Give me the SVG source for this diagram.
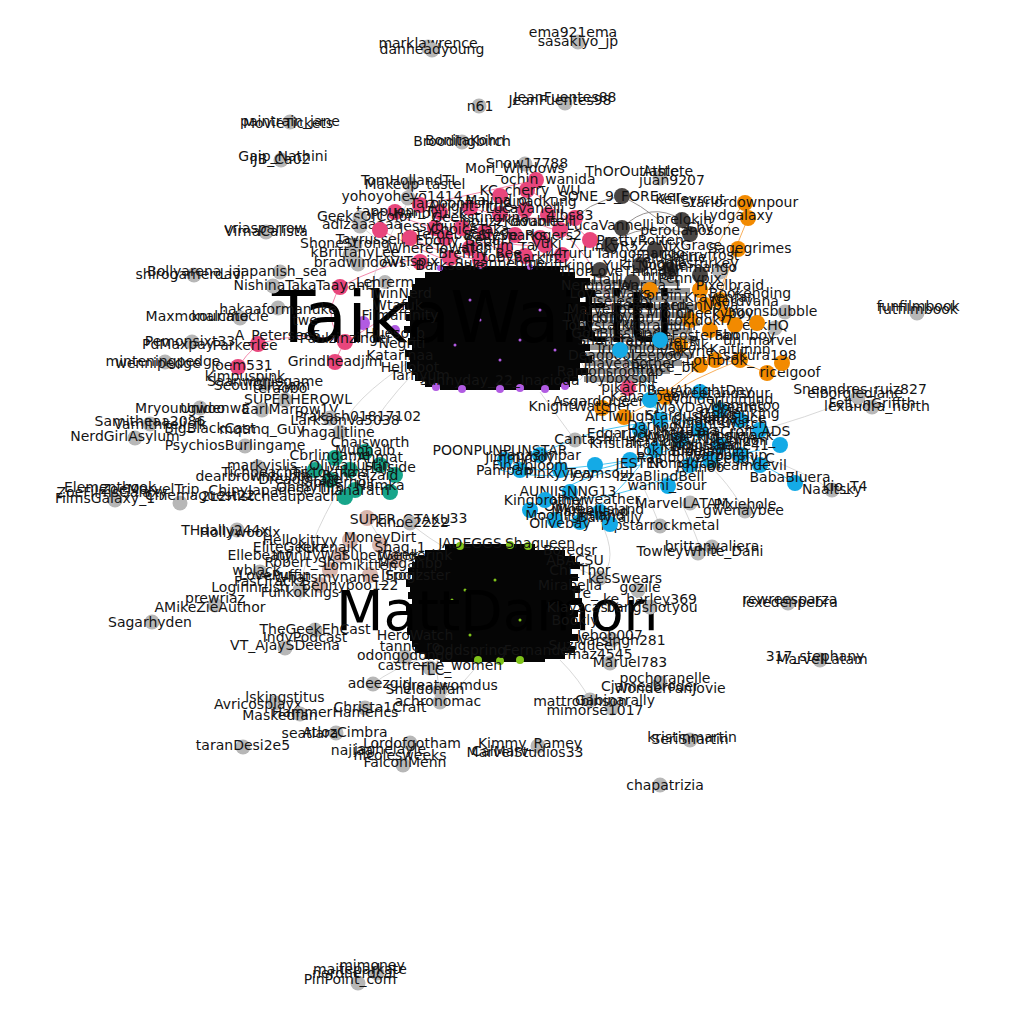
<svg xmlns="http://www.w3.org/2000/svg" width="1024" height="1024" viewBox="0 0 1024 1024">
<style>
text{font-family:"DejaVu Sans","Liberation Sans",sans-serif;font-size:14px;fill:#141414;text-anchor:middle}
.big{font-size:71px;text-anchor:start;fill:#000}
.big2{font-size:55px;text-anchor:start;fill:#000}
.g{fill:#b7b7b7}
.pk{fill:#e8467c}
.dk{fill:#4a4644}
.or{fill:#f28a00}
.bl{fill:#14aae6}
.tl{fill:#17a58a}
.bg{fill:#d8b6ad}
.pu{fill:#b15be2}
.gr{fill:#7fc31a}
.e{fill:none;stroke-width:0.9}
.ep{stroke:#f27aa3}
.eg{stroke:#d4d4d4}
.eb{stroke:#38bff0}
.eo{stroke:#f6a64a}
.ed{stroke:#8a8583}
.mass{fill:#050505}
.haze{fill:#111;opacity:0.45}
</style>
<rect width="1024" height="1024" fill="#ffffff"/>

<g id="connectors">
<path class="e ep" d="M395,212 Q420,230 462,228"/>
<path class="e ep" d="M420,205 Q470,195 536,180"/>
<path class="e ep" d="M440,212 Q490,250 545,245"/>
<path class="e ep" d="M470,208 Q520,222 575,218"/>
<path class="e ep" d="M460,228 Q500,260 562,255"/>
<path class="e ep" d="M410,238 Q470,268 525,258"/>
<path class="e ep" d="M380,230 Q420,250 450,262"/>
<path class="e ep" d="M527,188 Q560,210 590,240"/>
<path class="e ep" d="M500,196 Q540,230 560,230"/>
<path class="e ep" d="M340,287 Q320,320 345,342"/>
<path class="e ep" d="M345,342 Q300,330 258,344"/>
<path class="e ep" d="M258,344 Q245,356 238,367"/>
<path class="e ep" d="M335,362 Q340,350 345,342"/>
<path class="e ep" d="M345,342 Q380,320 415,300"/>
<path class="e ep" d="M340,287 Q380,265 420,258"/>
<path class="e ep" d="M560,230 Q620,280 628,388"/>
<path class="e eg" d="M410,377 Q360,430 333,500"/>
<path class="e eg" d="M333,500 Q300,560 300,600"/>
<path class="e eg" d="M340,432 Q350,400 412,360"/>
<path class="e eg" d="M410,198 Q380,250 370,290"/>
<path class="e eg" d="M360,226 Q380,240 410,270"/>
<path class="e eg" d="M367,518 Q400,570 420,600"/>
<path class="e eg" d="M410,523 Q430,540 450,550"/>
<path class="e eg" d="M440,690 Q430,650 450,640"/>
<path class="e eg" d="M373,684 Q390,670 430,655"/>
<path class="e eg" d="M440,700 Q470,680 480,660"/>
<path class="e eg" d="M560,660 Q580,680 590,700"/>
<path class="e eg" d="M600,578 Q580,570 570,565"/>
<path class="e eg" d="M640,330 Q600,350 580,380"/>
<path class="e eg" d="M575,440 Q560,420 540,392"/>
<path class="e eg" d="M745,511 Q720,470 700,460"/>
<path class="e eg" d="M660,526 Q650,500 640,480"/>
<path class="e eg" d="M785,312 Q740,320 720,318"/>
<path class="e eg" d="M858,397 Q800,420 760,430"/>
<path class="e eg" d="M832,490 Q800,470 770,460"/>
<path class="e eg" d="M700,547 Q690,520 680,500"/>
<path class="e eg" d="M580,360 Q600,400 628,388"/>
<path class="e ed" d="M622,196 Q660,215 690,250"/>
<path class="e ed" d="M622,228 Q650,200 682,220"/>
<path class="e ed" d="M610,245 Q640,220 690,234"/>
<path class="e ed" d="M560,230 Q590,200 622,196"/>
<path class="e ed" d="M640,265 Q660,240 682,220"/>
<path class="e eo" d="M745,203 Q720,230 700,290"/>
<path class="e eo" d="M748,218 Q730,260 720,300"/>
<path class="e eo" d="M738,249 Q720,280 710,330"/>
<path class="e eo" d="M700,290 Q690,330 680,345"/>
<path class="e eo" d="M767,373 Q740,360 715,360"/>
<path class="e eo" d="M602,408 Q650,380 690,342"/>
<path class="e eo" d="M624,417 Q660,400 700,365"/>
<path class="e eo" d="M665,397 Q690,380 740,360"/>
<path class="e eb" d="M700,440 Q620,470 520,470"/>
<path class="e eb" d="M720,450 Q640,500 560,500"/>
<path class="e eb" d="M660,440 Q600,520 570,520"/>
<path class="e eb" d="M740,460 Q680,420 620,350"/>
<path class="e eb" d="M668,486 Q700,460 760,450"/>
<path class="e eb" d="M640,400 Q700,430 790,480"/>
<path class="e eb" d="M620,350 Q650,380 660,420"/>
<path class="e eb" d="M560,490 Q600,470 640,465"/>
<path class="e eb" d="M540,455 Q600,420 700,420"/>
<path class="e eb" d="M500,470 Q560,485 630,460"/>
<path class="e eg" d="M600,520 Q620,560 600,578"/>
</g>

<g id="cluster-purple-mass">
<path class="haze" d="M585,280 h95 v6 h-95 Z M580,288 h110 v6 h-110 Z M588,296 h100 v6 h-100 Z M582,304 h115 v6 h-115 Z M586,312 h105 v6 h-105 Z M580,320 h120 v6 h-120 Z M584,328 h108 v6 h-108 Z M580,336 h118 v6 h-118 Z M588,344 h100 v6 h-100 Z M582,352 h112 v6 h-112 Z M586,360 h96 v6 h-96 Z M580,368 h90 v6 h-90 Z M584,376 h70 v6 h-70 Z"/>
<path class="mass" d="M440,266 h120 v7 h-120 Z M425,272 h150 v7 h-150 Z M415,278 h175 v7 h-175 Z M412,284 h173 v7 h-173 Z M410,290 h185 v7 h-185 Z M408,296 h172 v7 h-172 Z M405,302 h185 v7 h-185 Z M410,308 h175 v7 h-175 Z M406,314 h186 v7 h-186 Z M410,320 h170 v7 h-170 Z M404,326 h184 v7 h-184 Z M410,332 h185 v7 h-185 Z M408,338 h174 v7 h-174 Z M412,344 h178 v7 h-178 Z M405,350 h180 v7 h-180 Z M410,356 h182 v7 h-182 Z M407,362 h173 v7 h-173 Z M412,368 h176 v7 h-176 Z M415,374 h163 v7 h-163 Z M425,380 h145 v7 h-145 Z M440,386 h120 v4 h-120 Z"/>
<circle class="pu" cx="436" cy="387" r="4"/><circle class="pu" cx="462" cy="389" r="4"/><circle class="pu" cx="500" cy="389" r="4"/><circle class="pu" cx="520" cy="388" r="4"/><circle class="pu" cx="545" cy="389" r="4"/><circle class="pu" cx="565" cy="386" r="4"/>
<circle class="pu" cx="440" cy="268" r="3"/><circle class="pu" cx="480" cy="266" r="3"/><circle class="pu" cx="530" cy="267" r="3"/>
<circle class="pu" cx="480" cy="320" r="1.5"/><circle class="pu" cx="520" cy="340" r="1.5"/><circle class="pu" cx="540" cy="310" r="1.5"/><circle class="pu" cx="500" cy="360" r="1.5"/><circle class="pu" cx="555" cy="350" r="1.5"/><circle class="pu" cx="455" cy="345" r="1.5"/><circle class="pu" cx="470" cy="300" r="1.5"/>
<circle class="pu" cx="363" cy="323" r="7"/><circle class="pu" cx="395" cy="330" r="5"/>
</g>

<g id="cluster-green-mass">
<path class="mass" d="M445,544 h90 v7 h-90 Z M425,550 h140 v7 h-140 Z M415,556 h160 v7 h-160 Z M412,562 h168 v7 h-168 Z M408,568 h162 v7 h-162 Z M412,574 h166 v7 h-166 Z M406,580 h166 v7 h-166 Z M410,586 h170 v7 h-170 Z M408,592 h167 v7 h-167 Z M412,598 h170 v7 h-170 Z M406,604 h164 v7 h-164 Z M410,610 h168 v7 h-168 Z M408,616 h167 v7 h-167 Z M412,622 h168 v7 h-168 Z M407,628 h165 v7 h-165 Z M410,634 h168 v7 h-168 Z M412,640 h158 v7 h-158 Z M415,646 h160 v7 h-160 Z M425,652 h140 v7 h-140 Z M440,658 h105 v4 h-105 Z"/>
<circle class="gr" cx="460" cy="546" r="4"/><circle class="gr" cx="510" cy="545" r="4"/><circle class="gr" cx="528" cy="546" r="4"/>
<circle class="gr" cx="478" cy="660" r="4"/><circle class="gr" cx="500" cy="661" r="4"/><circle class="gr" cx="520" cy="660" r="4"/>
<circle class="gr" cx="452" cy="600" r="1.5"/><circle class="gr" cx="495" cy="580" r="1.5"/><circle class="gr" cx="520" cy="620" r="1.5"/><circle class="gr" cx="465" cy="590" r="1.5"/><circle class="gr" cx="470" cy="635" r="1.5"/>
</g>

<g id="big-labels">
<text class="big" x="272" y="342">TaikaWaititi</text>
<text class="big2" x="336" y="630">MattDamon</text>
</g>

<g id="n-marklawrence"><circle class="g" cx="428" cy="47" r="7.5"/><text x="428" y="48">marklawrence</text></g>
<g id="n-danheadyoung"><circle class="g" cx="432" cy="50" r="7.5"/><text x="432" y="54">danheadyoung</text></g>
<g id="n-ema921ema"><circle class="g" cx="578" cy="42" r="7.5"/><text x="573" y="37">ema921ema</text><text x="578" y="46">sasakiyo_jp</text></g>
<g id="n-jeanfuentes"><circle class="g" cx="565" cy="103" r="7.5"/><text x="560" y="105">JeanFuentes98</text><text x="565" y="102">JeanFuentes88</text></g>
<g id="n-n61"><circle class="g" cx="479" cy="106" r="7.5"/><text x="480" y="111">n61</text></g>
<g id="n-paintrain"><circle class="g" cx="290" cy="122" r="7.5"/><text x="290" y="126">paintrain_jane</text><text x="288" y="128">MovieTickets</text></g>
<g id="n-bonita"><circle class="g" cx="462" cy="142" r="7.5"/><text x="465" y="145">BonitaKohn</text><text x="462" y="146">Broodingbirch</text></g>
<g id="n-gaip"><circle class="g" cx="281" cy="160" r="7.5"/><text x="283" y="161">Gaip_Nathini</text><text x="280" y="164">IJB_Ca02</text></g>
<g id="n-vrias"><circle class="g" cx="266" cy="232" r="7.5"/><text x="265" y="233">vriasparrow</text><text x="266" y="236">VirnaCalista</text></g>
<g id="n-bolly"><circle class="g" cx="194" cy="275" r="7.5"/><text x="194" y="276">Bollyarena_ia</text><text x="190" y="279">shirogamerdavi</text></g>
<g id="n-japanish"><circle class="g" cx="280" cy="272" r="7.5"/><text x="282" y="276">japanish_sea</text></g>
<g id="n-nishina"><circle class="g" cx="273" cy="286" r="7.5"/><text x="275" y="290">NishinaTaka</text></g>
<g id="n-taayani"><circle class="pk" cx="340" cy="287" r="8"/><text x="347" y="290">Taayani1</text></g>
<g id="n-lehrer"><circle class="g" cx="385" cy="282" r="7"/><text x="385" y="287">Lehrerm</text></g>
<g id="n-hakaa"><circle class="g" cx="278" cy="308" r="7.5"/><text x="278" y="314">hakaaformanuke</text></g>
<g id="n-maxmon"><circle class="g" cx="240" cy="318" r="7.5"/><text x="197" y="321">Maxmonalcate</text><text x="230" y="321">kourimocle</text><text x="305" y="325">twe</text></g>
<g id="n-pemon"><circle class="g" cx="192" cy="342" r="7.5"/><text x="190" y="346">Pemonsixt33</text><text x="178" y="349">PdMaxpay</text></g>
<g id="n-apete"><circle class="pk" cx="258" cy="344" r="8"/><text x="278" y="340">A_Petersee5</text><text x="245" y="350">Parkerlee</text></g>
<g id="n-paulz"><circle class="pk" cx="345" cy="342" r="8"/><text x="345" y="343">Paulzinzingei</text></g>
<g id="n-mintening"><circle class="g" cx="165" cy="362" r="7.5"/><text x="163" y="366">minteningpedge</text><text x="158" y="368">wennipedge</text></g>
<g id="n-joem"><circle class="pk" cx="238" cy="367" r="8"/><text x="242" y="370">joem531</text></g>
<g id="n-grind"><circle class="pk" cx="335" cy="362" r="8"/><text x="335" y="366">Grindheadjim</text></g>
<g id="n-kimpus"><circle class="g" cx="265" cy="384" r="7.5"/><text x="245" y="381">kimpuspink</text><text x="265" y="386">Saanwoniegame</text><text x="262" y="390">SeoulGlitzjam</text><text x="280" y="393">teraobo</text></g>
<g id="n-superhero"><circle class="g" cx="285" cy="400" r="7.5"/><text x="298" y="404">SUPERHEROWL</text></g>
<g id="n-mryoung"><circle class="g" cx="200" cy="408" r="7.5"/><text x="180" y="413">Mryoungwoo</text><text x="215" y="413">Unidenwa</text></g>
<g id="n-earl"><circle class="g" cx="262" cy="410" r="7.5"/><text x="290" y="414">EarlMarrow1V</text></g>
<g id="n-prakash"><circle class="g" cx="330" cy="418" r="7.5"/><text x="358" y="421">Prakash01817102</text><text x="345" y="425">LarkSonVa5038</text></g>
<g id="n-vamith"><circle class="g" cx="150" cy="424" r="7.5"/><text x="150" y="426">Samitheaa2086</text><text x="160" y="429">Vamithkeli_fk</text></g>
<g id="n-nerdgirl"><circle class="g" cx="135" cy="438" r="7.5"/><text x="125" y="441">NerdGirlAsylum</text><text x="210" y="433">BigBlackCast</text></g>
<g id="n-psych"><circle class="g" cx="245" cy="446" r="7.5"/><text x="235" y="450">PsychiosBurlingame</text><text x="262" y="434">mqtmq_Guy</text></g>
<g id="n-hagal"><circle class="g" cx="340" cy="432" r="7.5"/><text x="338" y="437">hagalitline</text></g>
<g id="n-marky"><circle class="g" cx="258" cy="467" r="7.5"/><text x="262" y="470">markyislis</text><text x="255" y="481">dearbrownbubbe</text><text x="265" y="477">Tichpeaches</text></g>
<g id="n-filmsgalaxy"><circle class="g" cx="115" cy="500" r="7.5"/><circle class="g" cx="180" cy="503" r="7.5"/><text x="110" y="492">Elementhook</text><text x="112" y="497">ZoeFilmsGalaxy</text><text x="105" y="503">FilmsGalaxy_1</text><text x="150" y="494">ZoeMarvelTrip</text><text x="200" y="500">Cinemaguest22</text><text x="260" y="495">ChinyJapanese</text><text x="270" y="501">2L2Histcheaupeach</text></g>
<g id="n-thdally"><circle class="g" cx="237" cy="530" r="7.5"/><text x="225" y="535">THdally244x</text><text x="240" y="537">Hollywoodx</text></g>
<g id="n-superotaku"><circle class="bg" cx="367" cy="518" r="8"/><text x="400" y="524">SUPER_OTAKU</text><text x="455" y="523">_33</text></g>
<g id="n-kinoe"><circle class="g" cx="410" cy="523" r="7.5"/><text x="412" y="527">kinoe2222</text></g>
<g id="n-prewriaz"><circle class="g" cx="215" cy="605" r="7.5"/><text x="215" y="603">prewriaz</text><text x="210" y="612">AMikeZieAuthor</text></g>
<g id="n-sagar"><circle class="g" cx="152" cy="622" r="7.5"/><text x="150" y="627">Sagarhyden</text></g>
<g id="n-geekeh"><circle class="g" cx="315" cy="630" r="7.5"/><text x="315" y="634">TheGeekEhCast</text><text x="305" y="642">IndyPodcast</text></g>
<g id="n-vtajay"><circle class="g" cx="285" cy="648" r="7.5"/><text x="285" y="650">VT_AjaySDeena</text></g>
<g id="n-odongo"><circle class="g" cx="405" cy="657" r="7.5"/><text x="410" y="651">tannc_ro</text><text x="405" y="660">odongodongo</text></g>
<g id="n-castrerne"><circle class="g" cx="430" cy="668" r="7.5"/><text x="440" y="670">castrerne_women</text><text x="435" y="675">TLC_</text></g>
<g id="n-adeez"><circle class="g" cx="373" cy="684" r="7.5"/><text x="380" y="688">adeezgirl</text></g>
<g id="n-great"><circle class="g" cx="440" cy="690" r="7.5"/><text x="450" y="690">greatwomdus</text><text x="425" y="694">Sheldonfan</text></g>
<g id="n-achro"><circle class="g" cx="440" cy="702" r="7.5"/><text x="438" y="706">achronomac</text></g>
<g id="n-avric"><circle class="g" cx="275" cy="703" r="7.5"/><text x="285" y="702">lskingstitus</text><text x="258" y="709">Avricosplayx</text></g>
<g id="n-masked"><circle class="g" cx="300" cy="714" r="7.5"/><circle class="g" cx="365" cy="708" r="7.5"/><text x="280" y="720">Maskedfan</text><text x="335" y="717">HammerHamerics</text><text x="380" y="712">Christa1Craft</text></g>
<g id="n-seatiara"><circle class="g" cx="336" cy="733" r="7.5"/><text x="310" y="738">seatiara</text><text x="345" y="737">AtlozCimbra</text></g>
<g id="n-taran"><circle class="g" cx="243" cy="747" r="7.5"/><text x="243" y="750">taranDesi2e5</text></g>
<g id="n-lordof"><circle class="g" cx="410" cy="743" r="7.5"/><text x="412" y="748">Lordofgotham</text></g>
<g id="n-najiaa"><circle class="g" cx="403" cy="765" r="7.5"/><text x="352" y="755">najiaa</text><text x="390" y="754">jaghelayle</text><text x="400" y="760">nicolesweeks</text><text x="405" y="767">FalconMenn</text></g>
<g id="n-kimmy"><circle class="g" cx="538" cy="746" r="7.5"/><text x="530" y="748">Kimmy_Ramey</text><text x="525" y="757">MarvelStudios33</text><text x="500" y="756">CalMarv</text></g>
<g id="n-seri"><circle class="g" cx="690" cy="740" r="7.5"/><text x="690" y="744">SeriSnartin</text><text x="692" y="742">kristinmartin</text></g>
<g id="n-chapa"><circle class="g" cx="660" cy="785" r="7.5"/><text x="665" y="790">chapatrizia</text></g>
<g id="n-mjmoney"><circle class="g" cx="377" cy="973" r="7.5"/><circle class="g" cx="358" cy="983" r="7.5"/><text x="372" y="970">mjmoney</text><text x="360" y="974">maiteparkate</text><text x="355" y="978">nerdnerdcat</text><text x="350" y="984">PinPoint_com</text></g>
<g id="n-mattrob"><circle class="g" cx="590" cy="700" r="7.5"/><circle class="g" cx="612" cy="708" r="7.5"/><text x="580" y="706">mattrobinson</text><text x="615" y="705">Gabinarally</text><text x="595" y="715">mimorse1017</text></g>
<g id="n-pochor"><circle class="g" cx="660" cy="683" r="7.5"/><text x="665" y="683">pochoranelle</text><text x="670" y="693">WonderFanJovie</text><text x="650" y="691">Cjamesbroder</text></g>
<g id="n-317"><circle class="g" cx="820" cy="660" r="7.5"/><text x="815" y="661">317_stephany</text><text x="822" y="664">MarvelLatam</text></g>
<g id="n-rewree"><circle class="g" cx="788" cy="603" r="7.5"/><text x="790" y="604">rewreesparza</text><text x="790" y="607">lexedenpebra</text></g>
<g id="n-maruel"><circle class="g" cx="610" cy="663" r="7.5"/><text x="630" y="667">Maruel783</text><text x="600" y="659">maz4545</text></g>
<g id="n-singh"><circle class="g" cx="612" cy="640" r="7.5"/><text x="622" y="645">Varsingh281</text><text x="610" y="640">Jebob007</text></g>
<g id="n-harley"><circle class="g" cx="650" cy="607" r="7.5"/><text x="650" y="604">ke_harley369</text><text x="652" y="612">bangsnotyou</text></g>
<g id="n-kes"><circle class="g" cx="600" cy="578" r="7.5"/><circle class="g" cx="638" cy="590" r="7.5"/><text x="625" y="583">kesSwears</text><text x="640" y="592">gozile</text></g>
<g id="n-brittany"><circle class="g" cx="712" cy="547" r="7.5"/><circle class="g" cx="698" cy="553" r="7.5"/><text x="712" y="551">brittanyaliera</text><text x="700" y="556">TowleyWhite_Dahi</text></g>
<g id="n-rockmetal"><circle class="g" cx="660" cy="526" r="7.5"/><text x="660" y="530">hipstarrockmetal</text></g>
<g id="n-marvellatam"><circle class="g" cx="690" cy="503" r="7.5"/><circle class="g" cx="745" cy="511" r="7.5"/><text x="682" y="508">MarvelLATAM</text><text x="745" y="509">Pixiehole</text><text x="740" y="515">_gwenaybee</text></g>
<g id="n-naalt"><circle class="g" cx="832" cy="490" r="7.5"/><text x="832" y="494">Naaltsky</text><text x="845" y="491">kio_T4</text></g>
<g id="n-babab"><circle class="bl" cx="795" cy="483" r="8"/><text x="790" y="482">BabaBluera</text></g>
<g id="n-felton"><circle class="g" cx="872" cy="407" r="7.5"/><text x="872" y="408">FeltonGriffth</text><text x="877" y="411">lexandra_north</text></g>
<g id="n-sneandres"><circle class="g" cx="858" cy="397" r="7.5"/><text x="860" y="394">Sneandres_ruiz827</text><text x="855" y="398">elborglediane</text></g>
<g id="n-funfilm"><circle class="g" cx="917" cy="313" r="7.5"/><text x="918" y="311">funfilmbook</text><text x="918" y="314">futfilmbook</text></g>
<g id="n-dragons"><circle class="g" cx="785" cy="312" r="7.5"/><text x="765" y="316">dragonsbubble</text></g>
<g id="n-hq"><circle class="g" cx="775" cy="328" r="7.5"/><text x="760" y="330">GeekHQ</text></g>
<g id="n-riceig"><circle class="or" cx="767" cy="373" r="8"/><text x="790" y="377">riceigoof</text></g>
<g id="n-pikachil"><circle class="pk" cx="628" cy="388" r="8"/><text x="628" y="392">pikachil</text></g>
<g id="n-asgard"><circle class="or" cx="602" cy="408" r="8"/><text x="600" y="406">AsgardQueen</text><text x="580" y="411">KnightWatcher</text></g>
<g id="n-arttw"><circle class="or" cx="624" cy="417" r="8"/><text x="622" y="421">ArtTwilight</text></g>
<g id="n-kanan"><circle class="or" cx="665" cy="397" r="8"/><text x="645" y="401">Kananbee</text></g>
<g id="n-cantashi"><circle class="g" cx="575" cy="440" r="7.5"/><text x="585" y="444">Cantashi</text></g>
<g id="n-poon"><circle class="bl" cx="540" cy="455" r="8"/><text x="500" y="455">POONPUNPUNSTAR</text></g>
<g id="n-jester"><circle class="bl" cx="630" cy="460" r="8"/><text x="640" y="468">JESTER</text></g>
<g id="n-izza"><circle class="bl" cx="668" cy="486" r="8"/><text x="660" y="481">IzzaBlindBell</text><text x="667" y="490">wanni_sour</text></g>
<g id="n-auni"><circle class="bl" cx="570" cy="492" r="8"/><text x="568" y="496">AUNIISNNG13</text><text x="590" y="504">palmyweather</text></g>
<g id="n-moebius"><circle class="bl" cx="600" cy="512" r="8"/><text x="600" y="514">Moebiusland</text><text x="560" y="511">_Olivia</text></g>
<g id="n-snow"><circle class="g" cx="525" cy="164" r="7.5"/><text x="527" y="168">Snow17788</text><text x="515" y="173">Mori_Windows</text></g>
<g id="n-ochin"><circle class="pk" cx="536" cy="180" r="8"/><text x="548" y="184">ochin_wanida</text></g>
<g id="n-kccherry"><circle class="pk" cx="527" cy="190" r="8"/><text x="530" y="195">KC_cherry_WU</text></g>
<g id="n-tomholland"><circle class="g" cx="410" cy="184" r="7.5"/><text x="410" y="185">TomHollandTL</text><text x="415" y="189">Makeup_tastel</text></g>
<g id="n-yohoyo"><circle class="g" cx="408" cy="198" r="7.5"/><text x="402" y="201">yohoyoheyo1414</text></g>
<g id="n-thor"><circle class="g" cx="660" cy="178" r="7.5"/><text x="632" y="176">ThOrOutlaste</text><text x="668" y="176">Athlete</text><text x="672" y="185">juan9207</text></g>
<g id="n-sone"><circle class="dk" cx="622" cy="196" r="8"/><text x="620" y="201">SONE_9_FOREver</text></g>
<g id="n-starlord"><circle class="or" cx="745" cy="203" r="8"/><text x="740" y="207">Starlordownpour</text><text x="690" y="204">Kelleyrcut</text></g>
<g id="n-lydg"><circle class="or" cx="748" cy="218" r="8"/><text x="738" y="220">Lydgalaxy</text></g>
<g id="n-brelok"><circle class="dk" cx="682" cy="220" r="8"/><text x="684" y="224">brelokin</text></g>
<g id="n-perou"><circle class="dk" cx="690" cy="234" r="8"/><text x="690" y="235">perouanosone</text><text x="700" y="232">Chy</text></g>
<g id="n-luca"><circle class="dk" cx="622" cy="228" r="8"/><text x="610" y="230">LucaVannelli</text></g>
<g id="n-pinky"><circle class="dk" cx="610" cy="245" r="8"/><text x="620" y="251">PinkyR5Z6</text></g>
<g id="n-sage"><circle class="or" cx="738" cy="249" r="8"/><text x="750" y="253">Sagegrimes</text><text x="690" y="250">NixGrace</text></g>
<g id="n-m4ruru"><circle class="pk" cx="562" cy="255" r="8"/><text x="567" y="258">M4ruru</text></g>
<g id="n-tappu"><circle class="pk" cx="395" cy="212" r="8"/><text x="395" y="216">tappuoni_T</text></g>
<g id="n-geeks"><circle class="g" cx="360" cy="218" r="7.5"/><text x="365" y="221">GeeksOfColor</text></g>
<g id="n-adiza"><circle class="g" cx="360" cy="226" r="7.5"/><text x="362" y="229">adizaaaaaa</text></g>
<g id="n-jessy"><circle class="pk" cx="435" cy="228" r="8"/><text x="438" y="231">jessybuilds</text></g>
<g id="n-teroe"><circle class="pk" cx="445" cy="238" r="8"/><text x="452" y="239">teroebuds</text></g>
<g id="n-shone"><circle class="g" cx="355" cy="245" r="7.5"/><text x="345" y="248">ShoneStrong</text><text x="370" y="244">Tayrussell</text></g>
<g id="n-brittk"><circle class="g" cx="350" cy="255" r="7.5"/><text x="355" y="257">kBrittanyLee</text></g>
<g id="n-bradw"><circle class="g" cx="358" cy="264" r="7.5"/><text x="360" y="267">bradwindows</text></g>
<g id="n-avit"><circle class="pk" cx="420" cy="262" r="8"/><text x="410" y="266">AVITspix</text></g>

<g id="labels-pink-cluster">
<circle class="pk" cx="420" cy="205" r="8"/><circle class="pk" cx="440" cy="212" r="8"/><circle class="pk" cx="470" cy="208" r="8"/><circle class="pk" cx="500" cy="214" r="8"/><circle class="pk" cx="525" cy="210" r="8"/><circle class="pk" cx="548" cy="215" r="8"/><circle class="pk" cx="575" cy="218" r="8"/><circle class="pk" cx="462" cy="228" r="8"/><circle class="pk" cx="485" cy="232" r="8"/><circle class="pk" cx="515" cy="235" r="8"/><circle class="pk" cx="540" cy="238" r="8"/><circle class="pk" cx="470" cy="248" r="8"/><circle class="pk" cx="505" cy="250" r="8"/><circle class="pk" cx="525" cy="256" r="8"/><circle class="pk" cx="545" cy="245" r="8"/><circle class="pk" cx="410" cy="238" r="8"/><circle class="pk" cx="450" cy="258" r="8"/><circle class="pk" cx="480" cy="260" r="8"/><circle class="pk" cx="560" cy="230" r="8"/><circle class="pk" cx="590" cy="240" r="8"/><circle class="pk" cx="500" cy="196" r="8"/><circle class="pk" cx="380" cy="230" r="8"/>
<text x="470" y="211">Alright_little</text><text x="450" y="208">Tarpoonfish</text><text x="498" y="205">Malina_ol</text><text x="540" y="206">dinadkung</text><text x="525" y="213">Lucavanelli</text>
<text x="570" y="220">4lbs83</text><text x="480" y="222">Geekstingrina</text><text x="510" y="226">pbuzz_double</text><text x="470" y="234">ChoiceTaka</text>
<text x="530" y="240">Steve_Rogers2</text><text x="460" y="245">Ebony_Seoul</text><text x="500" y="250">Haeilm_ra</text><text x="555" y="248">yuki_7</text>
<text x="440" y="253">WhereToWatch</text><text x="480" y="258">Brenny_Bee</text><text x="520" y="262">tobyparkin</text>
<text x="505" y="240">BabySparks</text><text x="540" y="226">Kavannelli</text><text x="430" y="218">Hanbyul_k</text>
</g>

<g id="labels-dark-cluster">
<circle class="dk" cx="640" cy="265" r="8"/><circle class="dk" cx="670" cy="270" r="8"/><circle class="dk" cx="700" cy="275" r="8"/><circle class="dk" cx="655" cy="250" r="8"/><circle class="dk" cx="632" cy="282" r="8"/><circle class="dk" cx="600" cy="270" r="8"/><circle class="g" cx="720" cy="272" r="7.5"/>
<text x="640" y="258">Tangomango</text><text x="665" y="262">Lizalunaline</text><text x="690" y="268">Gigglesturkey</text><text x="645" y="270">Yuki_Noodle</text><text x="700" y="272">Mmmango</text>
<text x="620" y="276">ThorLoveThunder</text><text x="660" y="280">hrich</text><text x="690" y="283">Pennypix</text><text x="610" y="284">Tlalli_</text><text x="650" y="290">Wanda_1</text>
<text x="700" y="260">Cherryfrost</text><text x="640" y="245">PrettyRotten</text>
</g>

<g id="labels-orange-cluster">
<circle class="or" cx="650" cy="290" r="8"/><circle class="or" cx="700" cy="290" r="8"/><circle class="or" cx="720" cy="300" r="8"/><circle class="or" cx="690" cy="320" r="8"/><circle class="or" cx="710" cy="330" r="8"/><circle class="or" cx="735" cy="325" r="8"/><circle class="or" cx="680" cy="345" r="8"/><circle class="or" cx="700" cy="365" r="8"/><circle class="or" cx="715" cy="360" r="8"/><circle class="or" cx="740" cy="360" r="8"/><circle class="or" cx="782" cy="363" r="8"/><circle class="or" cx="757" cy="323" r="8"/><circle class="or" cx="705" cy="305" r="8"/><circle class="or" cx="725" cy="315" r="8"/>
<text x="730" y="290">Pixelbraid</text><text x="750" y="298">Bookending</text><text x="720" y="302">Kravenfan</text><text x="700" y="310">ArdenNova</text><text x="745" y="306">Nerdvana</text>
<text x="715" y="318">Cheekyboy</text><text x="700" y="325">Lokidoki7</text><text x="760" y="345">tin_marvel</text><text x="740" y="354">Kaitlinnn</text><text x="760" y="360">sakura198</text>
<text x="720" y="365">Lothbrok_</text><text x="690" y="340">JaneFosterFan</text><text x="680" y="350">Korgtalk</text><text x="745" y="340">abonboy</text>
</g>

<g id="labels-purple-edges">
<text x="400" y="298">TwinNerd</text><text x="398" y="310">Wtafuk</text><text x="400" y="320">Filmaffinity</text><text x="395" y="338">Hueso_b</text><text x="402" y="348">Negriti</text>
<text x="400" y="360">Katarinaa</text><text x="410" y="372">Hellobot</text><text x="420" y="380">Tarnyum</text><text x="470" y="385">sunnyday_22_</text><text x="550" y="385">Inacioda</text><text x="500" y="268">Suzanneblue</text><text x="560" y="270">Thriftking</text><text x="450" y="270">Barksdale</text>
<text x="600" y="290">Nerdnation</text><text x="610" y="298">Lovealways</text><text x="620" y="306">uselessbi</text><text x="605" y="314">Marvellous</text><text x="625" y="322">Kirbyfan</text>
<text x="600" y="330">Tonystarkk</text><text x="630" y="338">Blissland</text><text x="610" y="345">Shuri_fan</text><text x="625" y="353">Trinomio</text><text x="605" y="360">Deadpoolz</text>
<text x="630" y="368">Ihaveanother</text><text x="610" y="376">Ramonsrooftop</text><text x="620" y="383">Toyboxsoft</text><text x="650" y="310">Helaqueen</text><text x="660" y="330">Vibranium</text>
<text x="655" y="346">Stephanie_R</text><text x="660" y="360">Leeboo_</text><text x="665" y="372">Prince_bk</text><text x="595" y="322">TwitchTV</text><text x="590" y="338">Gorr_</text>
<text x="660" y="300">Korbin</text><text x="690" y="356">Valkyrie_</text><text x="670" y="318">Mjolnir</text>
</g>

<g id="labels-blue-cluster">
<circle class="bl" cx="620" cy="350" r="8"/><circle class="bl" cx="660" cy="340" r="8"/><circle class="bl" cx="650" cy="400" r="8"/><circle class="bl" cx="700" cy="392" r="8"/><circle class="bl" cx="720" cy="410" r="8"/><circle class="bl" cx="740" cy="420" r="8"/><circle class="bl" cx="760" cy="430" r="8"/><circle class="bl" cx="700" cy="430" r="8"/><circle class="bl" cx="720" cy="445" r="8"/><circle class="bl" cx="680" cy="440" r="8"/><circle class="bl" cx="655" cy="450" r="8"/><circle class="bl" cx="740" cy="455" r="8"/><circle class="bl" cx="760" cy="465" r="8"/><circle class="bl" cx="690" cy="465" r="8"/><circle class="bl" cx="520" cy="470" r="8"/><circle class="bl" cx="505" cy="460" r="8"/><circle class="bl" cx="560" cy="470" r="8"/><circle class="bl" cx="595" cy="465" r="8"/><circle class="bl" cx="530" cy="510" r="8"/><circle class="bl" cx="555" cy="520" r="8"/><circle class="bl" cx="580" cy="522" r="8"/><circle class="bl" cx="610" cy="524" r="8"/><circle class="bl" cx="545" cy="500" r="8"/><circle class="bl" cx="660" cy="420" r="8"/><circle class="bl" cx="780" cy="445" r="8"/><circle class="bl" cx="710" cy="460" r="8"/><circle class="bl" cx="640" cy="430" r="8"/>
<text x="700" y="395">BeuAbrightDay</text><text x="720" y="404">Wonderfulmind</text><text x="710" y="412">MayDaydreams</text><text x="740" y="418">Goldenking</text><text x="720" y="428">Knightswatch</text>
<text x="740" y="436">LaraCroft_ADS</text><text x="700" y="442">Wonderkid_EMA</text><text x="720" y="450">Nightshade41</text><text x="680" y="455">Lokilandland</text><text x="730" y="460">Vamprship</text>
<text x="750" y="470">Dreamdevil_</text><text x="700" y="472">Rhinoo</text><text x="640" y="438">EdgarDarkness</text><text x="660" y="430">Darkboy_</text><text x="620" y="448">Kristiana</text>
<text x="690" y="420">Stardustland</text><text x="700" y="450">Kingsisland</text><text x="670" y="462">Rainbowz</text><text x="740" y="445">Lilymoon_</text><text x="660" y="446">Heraldsky</text>
<text x="720" y="398">Sweetandsour</text><text x="745" y="410">Magnetoo</text><text x="705" y="425">Gladiatrix</text><text x="735" y="440">Hoodiejack</text><text x="690" y="435">Mantissa_</text>
<text x="710" y="456">Bluejayfilm</text><text x="745" y="463">Peggy_C</text><text x="685" y="468">Nomadcat</text><text x="655" y="440">Lucky7ish</text><text x="730" y="423">Sunpalace</text>
<text x="540" y="460">Papasimpar</text><text x="530" y="470">Finalbloom</text><text x="560" y="478">Pinkyyyyy</text><text x="600" y="478">Teamsoul</text><text x="545" y="505">Kingbrother</text>
<text x="520" y="462">Jimmyboy</text><text x="510" y="475">Pampam_</text>
<text x="575" y="520">Moonlightland</text><text x="610" y="522">Ballyrally</text><text x="560" y="528">Olivebay</text><text x="590" y="516">Marvelland</text>
</g>

<g id="labels-teal-cluster">
<circle class="tl" cx="365" cy="452" r="8"/><circle class="tl" cx="335" cy="458" r="8"/><circle class="tl" cx="350" cy="470" r="8"/><circle class="tl" cx="380" cy="465" r="8"/><circle class="tl" cx="330" cy="480" r="8"/><circle class="tl" cx="355" cy="490" r="8"/><circle class="tl" cx="390" cy="492" r="8"/><circle class="tl" cx="345" cy="497" r="8"/><circle class="tl" cx="395" cy="475" r="8"/><circle class="tl" cx="315" cy="470" r="8"/>
<text x="365" y="455">Muhnaib</text><text x="330" y="460">Cbrlingame</text><text x="380" y="462">Ahmat</text><text x="350" y="470">Olivialjustin</text><text x="390" y="472">Hajside</text>
<text x="330" y="477">Tiktokfilms</text><text x="360" y="480">Raheelzaid</text><text x="340" y="487">Spidernoir</text><text x="380" y="490">Hamka</text><text x="355" y="495">Ulanaratri</text>
<text x="300" y="484">Dreadpirate</text><text x="310" y="492">Ohmyfilm</text><text x="370" y="447">Chaisworth</text>
</g>

<g id="labels-beige-cluster">
<circle class="bg" cx="350" cy="540" r="8"/><circle class="bg" cx="340" cy="555" r="8"/><circle class="bg" cx="330" cy="570" r="8"/><circle class="bg" cx="320" cy="585" r="8"/><circle class="bg" cx="380" cy="545" r="8"/><circle class="bg" cx="395" cy="560" r="8"/><circle class="bg" cx="370" cy="575" r="8"/><circle class="g" cx="300" cy="590" r="7.5"/><circle class="g" cx="260" cy="572" r="7.5"/>
<text x="380" y="542">MoneyDirt</text><text x="300" y="545">Hellokittyy</text><text x="290" y="552">EliteGeekz</text><text x="330" y="552">Kurenaiki</text><text x="400" y="552">Shaq_1</text>
<text x="310" y="560">InfinityWar</text><text x="380" y="560">SuperGeek</text><text x="300" y="567">Robert_Sh</text><text x="360" y="570">Lomikitten</text><text x="260" y="575">wblack_</text>
<text x="275" y="580">LovePuffin</text><text x="330" y="582">Whatsmyname_</text><text x="270" y="586">FastTrackz</text><text x="350" y="590">Bennyboo122</text><text x="250" y="592">Loginnrush</text>
<text x="300" y="597">Funkokings</text><text x="400" y="580">ISpoil</text><text x="410" y="568">Meganbp</text><text x="260" y="560">Ellebeaty</text>
</g>

<g id="labels-green-edges">
<text x="570" y="555">Boredsr</text><text x="575" y="565">ABACSU</text><text x="580" y="575">Chi_Thor</text><text x="570" y="590">Mirabella</text><text x="585" y="598">fre_</text>
<text x="580" y="612">Klayzcast</text><text x="575" y="625">Bookly</text><text x="585" y="650">Suziqueen</text><text x="415" y="560">Wanderink</text><text x="418" y="580">Frogzster</text>
<text x="415" y="640">HeroWatch</text><text x="470" y="655">Oddspring</text><text x="540" y="655">Fernandez</text><text x="470" y="548">JADEGGS</text><text x="540" y="548">Shaqueen</text>
</g>
</svg>
